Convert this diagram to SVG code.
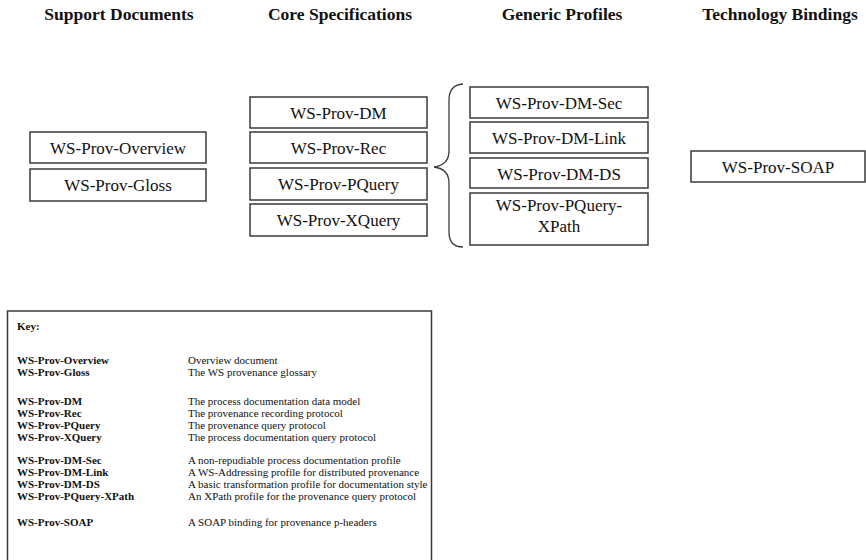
<svg xmlns="http://www.w3.org/2000/svg" width="866" height="560" viewBox="0 0 866 560" font-family="'Liberation Serif', 'DejaVu Serif', 'Times New Roman', serif">
<style>
text{font-family:'Liberation Serif','DejaVu Serif','Times New Roman',serif}
.bg{fill:#ffffff}
.box{fill:#ffffff;stroke:#3a3a3a;stroke-width:1.5}
.lbl{font-size:17px;fill:#111;text-anchor:middle}
.hd{font-size:17.5px;font-weight:bold;fill:#111;text-anchor:middle}
.kb{font-size:11px;font-weight:bold;fill:#111}
.kt{font-size:11px;fill:#111}
.brace{fill:none;stroke:#3a3a3a;stroke-width:1.3}
</style>
<rect class="bg" x="0" y="0" width="866" height="560"/>
<g id="headings">
<text class="hd" x="119" y="20">Support Documents</text>
<text class="hd" x="340" y="20">Core Specifications</text>
<text class="hd" x="562" y="20">Generic Profiles</text>
<text class="hd" x="780" y="20">Technology Bindings</text>
</g>
<g id="ws-prov-overview"><rect class="box" x="30" y="132" width="176" height="31"/><text class="lbl" x="118" y="154">WS-Prov-Overview</text></g>
<g id="ws-prov-gloss"><rect class="box" x="30" y="169" width="176" height="32"/><text class="lbl" x="118" y="191">WS-Prov-Gloss</text></g>
<g id="ws-prov-dm"><rect class="box" x="250" y="97" width="177" height="31"/><text class="lbl" x="338.5" y="119">WS-Prov-DM</text></g>
<g id="ws-prov-rec"><rect class="box" x="250" y="132" width="177" height="31"/><text class="lbl" x="338.5" y="154">WS-Prov-Rec</text></g>
<g id="ws-prov-pquery"><rect class="box" x="250" y="168" width="177" height="32"/><text class="lbl" x="338.5" y="190">WS-Prov-PQuery</text></g>
<g id="ws-prov-xquery"><rect class="box" x="250" y="204" width="177" height="32"/><text class="lbl" x="338.5" y="226">WS-Prov-XQuery</text></g>
<g id="ws-prov-dm-sec"><rect class="box" x="470" y="87" width="178" height="31"/><text class="lbl" x="559" y="109">WS-Prov-DM-Sec</text></g>
<g id="ws-prov-dm-link"><rect class="box" x="470" y="122" width="178" height="31"/><text class="lbl" x="559" y="144">WS-Prov-DM-Link</text></g>
<g id="ws-prov-dm-ds"><rect class="box" x="470" y="158" width="178" height="30"/><text class="lbl" x="559" y="180">WS-Prov-DM-DS</text></g>
<g id="ws-prov-pquery-xpath"><rect class="box" x="470" y="193" width="178" height="52"/><text class="lbl" x="559" y="211">WS-Prov-PQuery-</text><text class="lbl" x="559" y="232">XPath</text></g>
<g id="ws-prov-soap"><rect class="box" x="691" y="151" width="174" height="31"/><text class="lbl" x="778" y="173">WS-Prov-SOAP</text></g>
<g id="connectors">
<path class="brace" d="M463,84 Q449,85 449,100 L449,151 Q449,165 434,167 Q449,169 449,183 L449,232 Q449,247 463,247"/>
</g>
<g id="key">
<rect class="box" x="7.5" y="311" width="424" height="270"/>
<text class="kb" x="17" y="330">Key:</text>
<text class="kb" x="17" y="364">WS-Prov-Overview</text><text class="kt" x="188" y="364">Overview document</text>
<text class="kb" x="17" y="376">WS-Prov-Gloss</text><text class="kt" x="188" y="376">The WS provenance glossary</text>
<text class="kb" x="17" y="405">WS-Prov-DM</text><text class="kt" x="188" y="405">The process documentation data model</text>
<text class="kb" x="17" y="417">WS-Prov-Rec</text><text class="kt" x="188" y="417">The provenance recording protocol</text>
<text class="kb" x="17" y="429">WS-Prov-PQuery</text><text class="kt" x="188" y="429">The provenance query protocol</text>
<text class="kb" x="17" y="441">WS-Prov-XQuery</text><text class="kt" x="188" y="441">The process documentation query protocol</text>
<text class="kb" x="17" y="464">WS-Prov-DM-Sec</text><text class="kt" x="188" y="464">A non-repudiable process documentation profile</text>
<text class="kb" x="17" y="476">WS-Prov-DM-Link</text><text class="kt" x="188" y="476">A WS-Addressing profile for distributed provenance</text>
<text class="kb" x="17" y="488">WS-Prov-DM-DS</text><text class="kt" x="188" y="488">A basic transformation profile for documentation style</text>
<text class="kb" x="17" y="500">WS-Prov-PQuery-XPath</text><text class="kt" x="188" y="500">An XPath profile for the provenance query protocol</text>
<text class="kb" x="17" y="526">WS-Prov-SOAP</text><text class="kt" x="188" y="526">A SOAP binding for provenance p-headers</text>
</g>
</svg>
